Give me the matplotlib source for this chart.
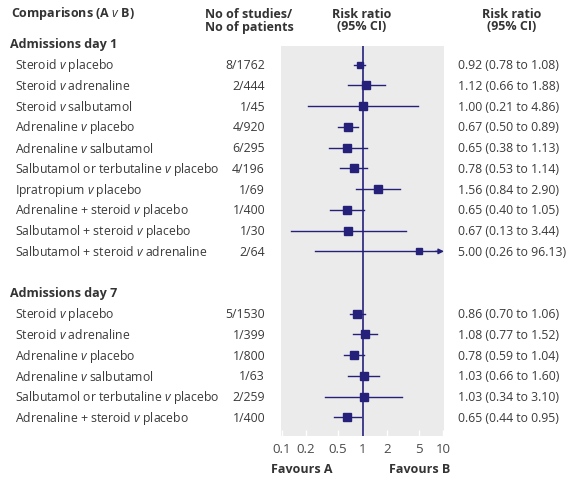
import numpy as np
import matplotlib
matplotlib.use("Agg")
import matplotlib.pyplot as plt
from matplotlib.transforms import blended_transform_factory

plt.rcParams['font.family'] = ['Open Sans', 'DejaVu Sans']
plt.rcParams['mathtext.fontset'] = 'custom'
plt.rcParams['mathtext.rm'] = 'Open Sans'
plt.rcParams['mathtext.it'] = 'Open Sans:italic'
plt.rcParams['mathtext.bf'] = 'Open Sans:bold'

# data
day1_labels = ["Steroid $\\mathit{v}$ placebo", "Steroid $\\mathit{v}$ adrenaline",
               "Steroid $\\mathit{v}$ salbutamol", "Adrenaline $\\mathit{v}$ placebo",
               "Adrenaline $\\mathit{v}$ salbutamol",
               "Salbutamol or terbutaline $\\mathit{v}$ placebo",
               "Ipratropium $\\mathit{v}$ placebo", "Adrenaline + steroid $\\mathit{v}$ placebo",
               "Salbutamol + steroid $\\mathit{v}$ placebo",
               "Salbutamol + steroid $\\mathit{v}$ adrenaline"]
day1_n = ["8/1762", "2/444", "1/45", "4/920", "6/295", "4/196", "1/69", "1/400", "1/30", "2/64"]
day1_rr = [0.92, 1.12, 1.00, 0.67, 0.65, 0.78, 1.56, 0.65, 0.67, 5.00]
day1_lo = [0.78, 0.66, 0.21, 0.50, 0.38, 0.53, 0.84, 0.40, 0.13, 0.26]
day1_hi = [1.08, 1.88, 4.86, 0.89, 1.13, 1.14, 2.90, 1.05, 3.44, 96.13]
day1_size = [4.8, 6.0, 5.2, 5.5, 5.5, 5.2, 5.2, 5.2, 5.2, 5.0]

day7_labels = ["Steroid $\\mathit{v}$ placebo", "Steroid $\\mathit{v}$ adrenaline",
               "Adrenaline $\\mathit{v}$ placebo", "Adrenaline $\\mathit{v}$ salbutamol",
               "Salbutamol or terbutaline $\\mathit{v}$ placebo",
               "Adrenaline + steroid $\\mathit{v}$ placebo"]
day7_n = ["5/1530", "1/399", "1/800", "1/63", "2/259", "1/400"]
day7_rr = [0.86, 1.08, 0.78, 1.03, 1.03, 0.65]
day7_lo = [0.70, 0.77, 0.59, 0.66, 0.34, 0.44]
day7_hi = [1.06, 1.52, 1.04, 1.60, 3.10, 0.95]
day7_size = [5.2, 5.2, 5.5, 5.2, 5.2, 5.2]

xticks = [0.1, 0.2, 0.5, 1, 2, 5, 10]

navy = '#25217a'
txt = '#3a3a3a'
W, H = 577, 485
fig = plt.figure(figsize=(W / 100, H / 100), dpi=100)

# grey panel: x 281..444 px, y 47..437 px
ax = fig.add_axes([281 / W, 1 - 437 / H, (444 - 281) / W, (437 - 47) / H])
ax.set_facecolor('#ebebeb')
for s in ax.spines.values():
    s.set_visible(False)
ax.set_xscale('log')
xmin, xmax = 0.1 / 1.02, 10 * 1.02
ax.set_xlim(xmin, xmax)
ax.set_ylim(18.9, 0.1)
ax.set_yticks([])
ax.set_xticks(xticks)
ax.set_xticklabels([f"{t:g}" for t in xticks])
ax.minorticks_off()
ax.tick_params(axis='x', direction='in', length=4, color='white', width=1,
               labelsize=9.5, labelcolor='#4a4a4a', pad=4)
ax.axvline(1, color=navy, lw=1.2, zorder=3)

fs = 8.8
tr = blended_transform_factory(fig.transFigure, ax.transData)


def fx(px):
    return px / W


def draw_group(y0, title, labels, ns, rr, lo, hi, sizes):
    ax.text(fx(10), y0, title, transform=tr, fontsize=9, fontweight='bold',
            color='#333333', va='center', ha='left')
    for i in range(len(labels)):
        y = y0 + 1 + i
        ax.text(fx(15), y, labels[i], transform=tr, fontsize=fs, color=txt,
                va='center', ha='left')
        ax.text(fx(265), y, ns[i], transform=tr, fontsize=fs, color=txt,
                va='center', ha='right')
        ax.text(fx(458), y, f"{rr[i]:.2f} ({lo[i]:.2f} to {hi[i]:.2f})", transform=tr,
                fontsize=fs, color=txt, va='center', ha='left')
        if hi[i] > xmax:
            ax.plot([lo[i], 8.6], [y, y], color=navy, lw=1.0, zorder=4)
            ax.annotate('', xy=(xmax, y), xytext=(8.0, y),
                        arrowprops=dict(arrowstyle='-|>', color=navy, lw=1.0,
                                        mutation_scale=8, shrinkA=0, shrinkB=0),
                        zorder=4)
        else:
            ax.plot([lo[i], hi[i]], [y, y], color=navy, lw=1.0, zorder=4)
        ax.plot(rr[i], y, marker='s', ms=sizes[i], color=navy, mec=navy, zorder=5)


draw_group(0, "Admissions day 1", day1_labels, day1_n, day1_rr, day1_lo, day1_hi, day1_size)
draw_group(12, "Admissions day 7", day7_labels, day7_n, day7_rr, day7_lo, day7_hi, day7_size)

hdr = dict(fontsize=9, fontweight='bold', color='#333333', va='center')
fig.text(fx(11), 1 - 14 / H, "Comparisons (A $\\mathbf{\\mathit{v}}$ B)", ha='left', **hdr)
fig.text(fx(205), 1 - 14 / H, "No of studies/", ha='left', **hdr)
fig.text(fx(205), 1 - 27 / H, "No of patients", ha='left', **hdr)
fig.text(fx(362), 1 - 14 / H, "Risk ratio", ha='center', **hdr)
fig.text(fx(362), 1 - 27 / H, "(95% CI)", ha='center', **hdr)
fig.text(fx(512), 1 - 14 / H, "Risk ratio", ha='center', **hdr)
fig.text(fx(512), 1 - 27 / H, "(95% CI)", ha='center', **hdr)
fig.text(fx(302), 1 - 470 / H, "Favours A", ha='center', **hdr)
fig.text(fx(420), 1 - 470 / H, "Favours B", ha='center', **hdr)

fig.savefig('out.png', dpi=100)
